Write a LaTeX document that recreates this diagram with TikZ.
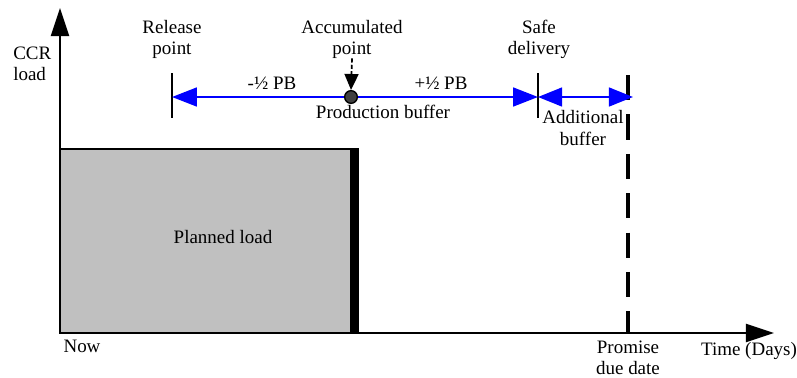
\documentclass[tikz,border=0pt]{standalone}
\usepackage{fontspec}
\setmainfont{Liberation Serif}
\usetikzlibrary{arrows.meta}
\definecolor{loadgray}{HTML}{C0C0C0}
\definecolor{dotgray}{HTML}{404040}
\tikzset{
  lbl/.style={align=center, inner sep=0pt, font=\fontsize{13.5}{15}\selectfont},
  axarr/.style={line width=1.4pt, -{Triangle[length=0.7cm,width=0.45cm]}},
  bluearr/.style={blue, line width=1.4pt, -{Triangle[length=0.62cm,width=0.47cm]}},
  vtick/.style={line width=1.4pt}
}
\begin{document}
\begin{tikzpicture}[x=0.025cm,y=-0.025cm]
    \useasboundingbox (0,0) rectangle (797,377);
    \coordinate (O) at (60,333);
    \coordinate (ytop) at (60,8);
    \coordinate (xend) at (774,333);
    \coordinate (rel) at (172,97);
    \coordinate (safe) at (538,97);
    \coordinate (due) at (633,97);
    \draw[fill=loadgray, line width=1.4pt] (60,149) rectangle (352,333);
    \fill (350,148) rectangle (359,333);
    \draw[axarr] (O) -- (ytop);
    \draw[axarr] (O) -- (xend);
    \node[lbl] (plan) at (223,237) {Planned load};
    \node[lbl, align=left, anchor=west] (ccr) at (13,64) {CCR\\load};
    \node[lbl] (rell) at (172,39) {Release\\point};
    \node[lbl] (accl) at (352,39) {Accumulated\\point};
    \node[lbl] (safel) at (539,39) {Safe\\delivery};
    \node[lbl, anchor=base] (minus) at (272,89) {-½ PB};
    \node[lbl, anchor=base] (plus) at (441,89) {+½ PB};
    \node[lbl, anchor=base] (prod) at (383,118) {Production buffer};
    \node[lbl] (addl) at (583,128) {Additional\\buffer};
    \node[lbl, anchor=base] (now) at (82,352) {Now};
    \node[lbl] (duel) at (628,358) {Promise\\due date};
    \node[lbl, anchor=base] (time) at (749,355) {Time (Days)};
    \draw[vtick] (rel) ++(0,-24) -- ++(0,45);
    \draw[vtick] (safe) ++(0,-24) -- ++(0,45);
    \draw[line width=2.2pt, dash pattern=on 18pt off 10pt] (628,75) -- (628,333);
    \node[circle, draw, fill=dotgray, line width=1pt, minimum size=9pt, inner sep=0pt] (acc) at (351,97) {};
    \draw[bluearr] (acc) -- (rel);
    \draw[bluearr] (acc) -- (safe);
    \draw[bluearr, {Triangle[length=0.6cm,width=0.47cm]}-{Triangle[length=0.6cm,width=0.47cm]}] (safe) -- (due);
    \draw[line width=1.2pt, dash pattern=on 3pt off 1.5pt, -{Triangle[length=0.4cm,width=0.35cm]}] (accl.south) -- (acc.north);
\end{tikzpicture}
\end{document}
